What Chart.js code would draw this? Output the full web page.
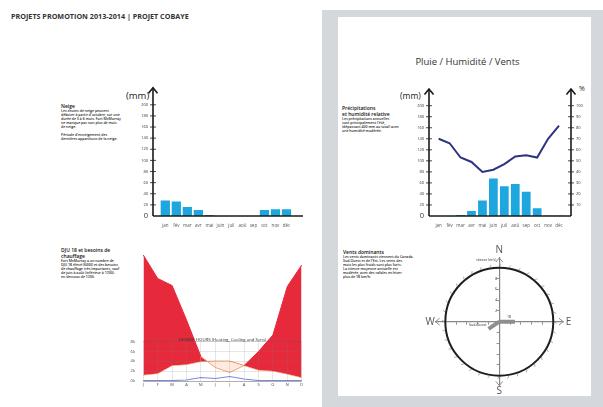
<!DOCTYPE html>
<html><head><meta charset="utf-8">
<script src="https://cdn.jsdelivr.net/npm/chart.js@4/dist/chart.umd.min.js"></script>
<style>
html,body{margin:0;padding:0;background:#fff;width:603px;height:407px;overflow:hidden;font-family:"Open Sans",sans-serif;}
#panel{position:absolute;left:322px;top:10px;width:281px;height:397px;background:#d4d8dd;}
#inner{position:absolute;left:338px;top:17px;width:253px;height:379px;background:#fff;}
canvas{position:absolute;}
.t{position:absolute;transform-origin:0 0;transform:scale(0.5);font-size:7px;line-height:8px;color:#222;font-weight:600;white-space:nowrap;}
.t b{display:block;font-size:10px;line-height:12px;font-weight:600;color:#111;}
.lbl{position:absolute;color:#222;white-space:nowrap;line-height:1;}
#title{position:absolute;left:11px;top:11.5px;font-size:7.2px;line-height:8px;font-weight:700;color:#333;white-space:nowrap;}
#rtitle{position:absolute;left:380px;width:175px;text-align:center;top:56px;font-size:9.5px;line-height:12px;color:#333;}
</style></head><body>
<div id="title">PROJETS PROMOTION 2013-2014 | PROJET COBAYE</div>
<div id="panel"></div><div id="inner"></div>
<div id="rtitle">Pluie / Humidité / Vents</div>

<div class="t" style="left:61px;top:103px"><b>Neige</b>Les chutes de neige peuvent<br>débuter à partir d'octobre, sur une<br>durée de 5 à 6 mois. Fort McMurray<br>ne manque pas non plus de mois<br>de neige.<br><br>Période d'enneigement des<br>dernières apparitions de la neige.</div>
<div class="t" style="left:342px;top:105px"><b>Précipitations<br>et humidité relative</b>Les précipitations annuelles<br>sont principalement l'été,<br>(dépassant 400 mm au total) avec<br>une humidité modérée.</div>
<div class="t" style="left:61px;top:247px"><b>DJU 18 et besoins de<br>chauffage</b>Fort McMurray a un nombre de<br>DJU 18 élevé (6000) et des besoins<br>de chauffage très importants, sauf<br>de juin à août (inférieur à 1200).<br>en dessous de 1200.</div>
<div class="t" style="left:343px;top:249px"><b>Vents dominants</b>Les vents dominants viennent du Canada.<br>Sud-Ouest et de l'Est. Les vents des<br>mois les plus froids sont plus forts.<br>La vitesse moyenne annuelle est<br>modérée, avec des rafales en hiver<br>plus de 18 km/h.</div>

<div class="lbl" style="left:126px;top:91px;font-size:9.5px">(mm)</div>
<div class="lbl" style="left:400px;top:92px;font-size:8.5px">(mm)</div>
<div class="lbl" style="left:579px;top:85px;font-size:7px">%</div>

<canvas id="snow" width="200" height="160" style="left:110px;top:80px"></canvas>
<canvas id="rain" width="220" height="160" style="left:380px;top:80px"></canvas>
<canvas id="dhRed" width="200" height="160" style="left:110px;top:240px"></canvas>
<canvas id="dhGrid" width="200" height="160" style="left:110px;top:240px"></canvas>
<canvas id="wind" width="161" height="161" style="left:419px;top:241px"></canvas>

<script>
// ---- data ----
const months = ['jan','fév','mar','avr','mai','juin','juil','aoû','sep','oct','nov','déc'];
const snowMm = [28, 26, 16, 11, 2, 0, 0, 0, 0, 11, 12, 12];
const rainMm = [0, 0, 2, 9, 28, 68, 54, 58, 44, 14, 0.6, 0.6];
const humidityPct = [70, 66, 53, 49, 40, 42, 47, 54, 55, 53, 70, 82];

const dhMonths = ['J','F','M','A','M','J','J','A','S','O','N','D'];
const heatingK = [25.2, 20.5, 19.1, 12.2, 4.9, 2.7, 1.7, 3.1, 5.9, 9.2, 18.9, 23.2];
const lowerK = [1.2, 1.5, 3.1, 3.3, 3.9, 4.0, 4.0, 3.1, 2.2, 2.0, 1.4, 0.7];
const coolingK = [0.1, 0.1, 0.1, 0.2, 0.7, 0.5, 0.9, 0.4, 0.1, 0.1, 0.1, 0.1];
const dhTickLabels = ['0k','2k','4k','6k','8k'];
const dhTitle = 'DEGREE HOURS (Heating, Cooling and Sens)';

const windDirs = ['E', 'OSO'];
const windAngleDeg = [90, 236];
const windSpeed = [2.9, 2.4];
const windLabels = ['18', 'Sud-Ouest'];
const windAxisLabels = ['N', 'E', 'S', 'W'];
const windRing = 10;

// ---- shared ----
Chart.defaults.font.family = '"Open Sans", sans-serif';
const base = {responsive:false, animation:false, events:[]};
const noLegend = {legend:{display:false}, tooltip:{enabled:false}};
const BLUE = '#1ea6df';

const axisDeco = {
  id:'axisDeco',
  afterDraw(chart, args, o) {
    const {ctx, chartArea:a} = chart;
    const y0 = a.bottom, xl = a.left - o.gapL, xr = a.right + o.gapR;
    ctx.save();
    ctx.strokeStyle = '#1a1a1a'; ctx.lineWidth = 1.6;
    ctx.beginPath(); ctx.moveTo(xl, y0); ctx.lineTo(xr, y0); ctx.stroke();
    o.axes.forEach(ax => {
      const sc = chart.scales[ax.id];
      const x = ax.side === 'left' ? xl : xr;
      ctx.lineWidth = 1.6;
      ctx.beginPath(); ctx.moveTo(x, y0); ctx.lineTo(x, o.tip); ctx.stroke();
      ctx.beginPath(); ctx.moveTo(x - 4.5, o.tip + 5.5); ctx.lineTo(x, o.tip); ctx.lineTo(x + 4.5, o.tip + 5.5); ctx.stroke();
      ctx.lineWidth = 0.8;
      sc.ticks.forEach(t => {
        if (t.value === sc.min) return;
        const y = sc.getPixelForValue(t.value);
        ctx.beginPath(); ctx.moveTo(x - 3, y); ctx.lineTo(x + 3, y); ctx.stroke();
      });
    });
    ctx.restore();
  }
};

const tickFont = c => ({size: (c.tick && c.tick.value === 0) ? 7.5 : 4});

// ---- snow ----
new Chart(document.getElementById('snow'), {
  type:'bar',
  data:{labels:months, datasets:[{data:snowMm, backgroundColor:BLUE, barPercentage:0.84, categoryPercentage:1}]},
  options:{...base,
    layout:{padding:{top:24.8, right:18, left:0, bottom:0}},
    scales:{
      x:{grid:{display:false, drawTicks:false}, border:{display:false},
         ticks:{font:{size:4.5}, color:'#555', padding:7, maxRotation:0, autoSkip:false},
         afterFit:s => { s.height = 24; }},
      y:{min:0, max:200, grid:{display:false, drawTicks:false}, border:{display:false},
         ticks:{stepSize:20, autoSkip:false, padding:11.8, color:'#333', font:tickFont},
         afterFit:s => { s.width = 49.8; }}
    },
    plugins:{...noLegend, axisDeco:{gapL:6.8, gapR:11, tip:7.7, axes:[{id:'y', side:'left'}]}}
  },
  plugins:[axisDeco]
});

// ---- rain / humidity ----
new Chart(document.getElementById('rain'), {
  type:'bar',
  data:{labels:months, datasets:[
    {type:'line', data:humidityPct, yAxisID:'y1', borderColor:'#2c357e', borderWidth:2, pointRadius:0, tension:0, order:0},
    {data:rainMm, yAxisID:'y', backgroundColor:BLUE, barPercentage:0.8, categoryPercentage:1, order:1}
  ]},
  options:{...base,
    layout:{padding:{top:25.7, right:0, left:0, bottom:0}},
    scales:{
      x:{grid:{display:false, drawTicks:false}, border:{display:false},
         ticks:{font:{size:4.5}, color:'#555', padding:7, maxRotation:0, autoSkip:false},
         afterFit:s => { s.height = 24; }},
      y:{position:'left', min:0, max:200, grid:{display:false, drawTicks:false}, border:{display:false},
         ticks:{stepSize:20, autoSkip:false, padding:9.2, color:'#333', font:tickFont},
         afterFit:s => { s.width = 53.2; }},
      y1:{position:'right', min:0, max:100, grid:{display:false, drawTicks:false}, border:{display:false},
         ticks:{stepSize:10, autoSkip:false, padding:11.5, color:'#333', font:{size:4}, callback:v => v === 0 ? '' : v},
         afterFit:s => { s.width = 35.5; }}
    },
    plugins:{...noLegend, axisDeco:{gapL:4.2, gapR:6.5, tip:9, axes:[{id:'y', side:'left'}, {id:'y1', side:'right'}]}}
  },
  plugins:[axisDeco]
});

// ---- degree hours: red heating area ----
new Chart(document.getElementById('dhRed'), {
  type:'line',
  data:{labels:dhMonths, datasets:[
    {data:heatingK, borderWidth:1, pointRadius:0, tension:0,
     fill:{target:1, above:'#e62a3c', below:'rgba(251,196,160,0.35)'},
     borderColor:'#e62a3c',
     segment:{borderColor:c => (heatingK[c.p0DataIndex] < lowerK[c.p0DataIndex] || heatingK[c.p1DataIndex] < lowerK[c.p1DataIndex]) ? '#f3a36e' : '#e62a3c'}},
    {data:lowerK, borderColor:'#f3a36e', borderWidth:1, pointRadius:0, tension:0, fill:false},
    {data:coolingK, borderColor:'#7f88dc', borderWidth:1.2, pointRadius:0, tension:0, fill:false}
  ]},
  options:{...base,
    layout:{padding:{top:15, right:8.3, left:0, bottom:0}},
    scales:{
      x:{offset:false, grid:{display:false, drawTicks:false}, border:{display:false}, ticks:{display:false}, afterFit:s => { s.height = 19; }},
      y:{min:0, max:25.2, grid:{display:false, drawTicks:false}, border:{display:false}, ticks:{display:false}, afterFit:s => { s.width = 33.3; }}
    },
    plugins:{...noLegend}
  }
});

// ---- degree hours: grid overlay ----
const dhTitlePlugin = {
  id:'dhTitle',
  afterDraw(chart) {
    const {ctx, chartArea:a} = chart;
    ctx.save();
    ctx.fillStyle = '#333'; ctx.font = '4.3px "Open Sans"';
    ctx.textAlign = 'center'; ctx.textBaseline = 'bottom';
    ctx.fillText(dhTitle, (a.left + a.right) / 2, a.top + 0.5);
    ctx.restore();
  }
};
new Chart(document.getElementById('dhGrid'), {
  type:'line',
  data:{labels:dhMonths, datasets:[]},
  options:{...base,
    layout:{padding:{top:101.7, right:8.3, left:0, bottom:0}},
    scales:{
      x:{offset:false, grid:{color:'rgba(120,120,120,0.3)', lineWidth:0.6, drawTicks:false}, border:{color:'rgba(120,120,120,0.5)'},
         ticks:{font:{size:4}, color:'#444', padding:1.5, maxRotation:0, autoSkip:false}, afterFit:s => { s.height = 19; }},
      y:{min:0, max:8, grid:{color:c => c.tick && c.tick.value === 8 ? 'rgba(90,90,90,0.55)' : 'rgba(120,120,120,0.3)', lineWidth:0.6, drawTicks:false},
         border:{display:false},
         ticks:{stepSize:2, autoSkip:false, font:{size:4}, color:'#444', padding:8.3, callback:(v, i) => dhTickLabels[i]},
         afterFit:s => { s.width = 33.3; }}
    },
    plugins:{...noLegend}
  },
  plugins:[dhTitlePlugin]
});

// ---- wind compass ----
const compassDeco = {
  id:'compassDeco',
  beforeDatasetsDraw(chart) {
    const {ctx, scales:{x, y}} = chart;
    const cx = x.getPixelForValue(0), cy = y.getPixelForValue(0);
    const r = x.getPixelForValue(windRing) - cx;
    ctx.save();
    ctx.strokeStyle = '#1e1e1e'; ctx.lineWidth = 2;
    ctx.beginPath(); ctx.arc(cx, cy, r, 0, Math.PI * 2); ctx.stroke();
    ctx.strokeStyle = '#777'; ctx.lineWidth = 0.6;
    for (let d = 0; d < 360; d += 10) {
      const a = d * Math.PI / 180;
      ctx.beginPath();
      ctx.moveTo(cx + (r + 1) * Math.sin(a), cy - (r + 1) * Math.cos(a));
      ctx.lineTo(cx + (r + 3.5) * Math.sin(a + 0.03), cy - (r + 3.5) * Math.cos(a + 0.03));
      ctx.stroke();
    }
    ctx.strokeStyle = '#888'; ctx.lineWidth = 1;
    const ends = [[cx, y.top, 0, -1], [x.right, cy, 1, 0], [cx, y.bottom, 0, 1], [x.left, cy, -1, 0]];
    ends.forEach(([px, py, dx, dy]) => {
      ctx.beginPath();
      ctx.moveTo(px - dx * 4 - dy * 3.5, py - dy * 4 - dx * 3.5);
      ctx.lineTo(px, py);
      ctx.lineTo(px - dx * 4 + dy * 3.5, py - dy * 4 + dx * 3.5);
      ctx.stroke();
    });
    ctx.fillStyle = '#555'; ctx.font = '10px "Open Sans"';
    ctx.textAlign = 'center'; ctx.textBaseline = 'middle';
    const pos = [[cx, y.top - 8], [x.right + 5.5, cy], [cx, y.bottom + 5.5], [x.left - 5.5, cy]];
    windAxisLabels.forEach((t, i) => ctx.fillText(t, pos[i][0], pos[i][1]));
    ctx.font = '3.5px "Open Sans"'; ctx.fillStyle = '#333'; ctx.textAlign = 'right';
    ctx.fillText('vitesse (m/s)', cx - 3, y.top + 1.5);
    ctx.restore();
  },
  afterDatasetsDraw(chart) {
    const {ctx} = chart;
    ctx.save();
    ctx.font = '3.6px "Open Sans"'; ctx.fillStyle = '#333'; ctx.textBaseline = 'middle';
    const e = chart.getDatasetMeta(0).data[1];
    ctx.textAlign = 'center'; ctx.fillText(windLabels[0], e.x - 6, e.y - 5);
    const s = chart.getDatasetMeta(1).data[1];
    ctx.textAlign = 'right'; ctx.fillText(windLabels[1], s.x - 2, s.y - 3.5);
    ctx.restore();
  }
};
new Chart(document.getElementById('wind'), {
  type:'scatter',
  data:{datasets:windAngleDeg.map((a, i) => ({
    label:windDirs[i],
    data:[{x:0, y:0}, {x:windSpeed[i] * Math.sin(a * Math.PI / 180), y:windSpeed[i] * Math.cos(a * Math.PI / 180)}],
    showLine:true, borderColor:'#8e8e8e', borderWidth:4, pointRadius:0, borderCapStyle:'butt'
  }))},
  options:{...base,
    layout:{padding:{top:17, right:17, left:16.6, bottom:16.6}},
    scales:{
      x:{type:'linear', min:-11.8, max:11.8, position:{y:0},
         grid:{drawOnChartArea:false, drawTicks:true, tickLength:2.5, lineWidth:0.7,
               color:c => (c.tick && Number.isInteger(c.tick.value) && c.tick.value !== 0 && Math.abs(c.tick.value) < 10) ? '#666' : 'rgba(0,0,0,0)'},
         border:{color:'#888', width:1.2}, ticks:{stepSize:2, display:false}},
      y:{type:'linear', min:-11.8, max:11.8, position:{x:0},
         grid:{drawOnChartArea:false, drawTicks:true, tickLength:2.5, lineWidth:0.7,
               color:c => (c.tick && Number.isInteger(c.tick.value) && c.tick.value !== 0 && Math.abs(c.tick.value) < 10) ? '#666' : 'rgba(0,0,0,0)'},
         border:{color:'#888', width:1.2},
         ticks:{stepSize:2, autoSkip:false, font:{size:4}, color:'#444', padding:1, callback:v => (v > 0 && v < 10) ? v + '  ' : ''}}
    },
    plugins:{...noLegend}
  },
  plugins:[compassDeco]
});
</script>
</body></html>
